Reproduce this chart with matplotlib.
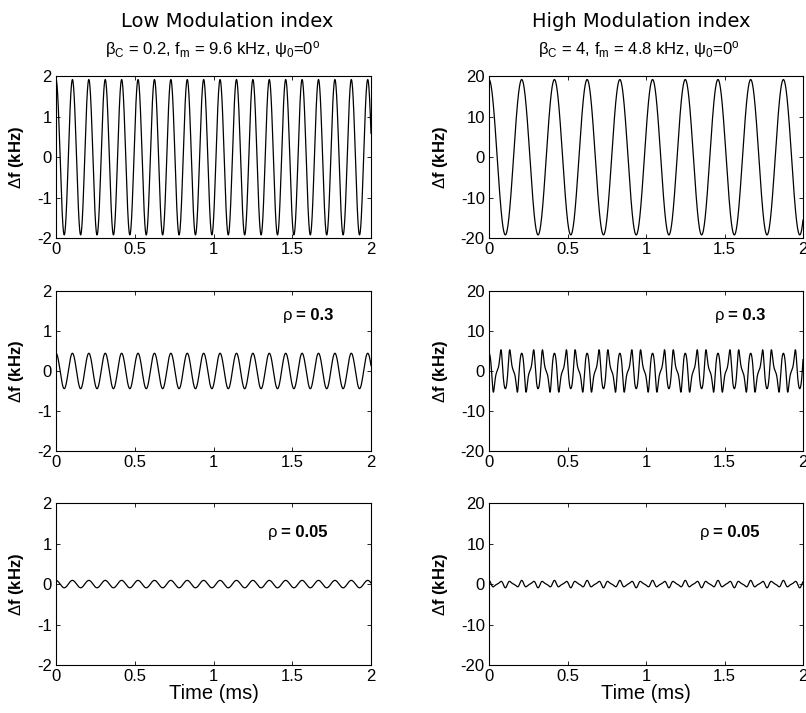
import numpy as np
import matplotlib
matplotlib.use("Agg")
import matplotlib.pyplot as plt

plt.rcParams['font.family'] = ['Liberation Sans', 'DejaVu Sans']
plt.rcParams['mathtext.fontset'] = 'custom'
plt.rcParams['mathtext.rm'] = 'Liberation Sans'
plt.rcParams['mathtext.it'] = 'Liberation Sans:italic'
plt.rcParams['mathtext.bf'] = 'Liberation Sans:bold'
plt.rcParams['axes.unicode_minus'] = False

# parametros
column_titles = ["Low Modulation index", "High Modulation index"]
betas = [0.2, 4]          # indice de modulacion
fms = [9.6, 4.8]          # kHz
psi0 = 0.0                # grados
rhos = [None, 0.3, 0.05]  # fila 0 = senal original
y_limits = [2, 20]
y_ticks = [[-2, -1, 0, 1, 2], [-20, -10, 0, 10, 20]]
x_ticks = [0, 0.5, 1, 1.5, 2]
x_ticklabels = ['0', '0.5', '1', '1.5', '2']
t_max = 2.0               # ms

t = np.linspace(0, t_max, 4001)


def desviacion(beta, fm, rho):
    """Desviacion de frecuencia (kHz); con rho, error de la senal con interferencia."""
    arg = 2 * np.pi * fm * t + np.deg2rad(psi0)
    f = beta * fm * np.cos(arg)
    if rho is None:
        return f
    phi = beta * np.sin(arg)
    return f * (rho * np.cos(phi) + rho**2) / (1 + 2 * rho * np.cos(phi) + rho**2)


fig = plt.figure(figsize=(8.06, 7.13), dpi=100)

lefts = [0.0695, 0.6067]
widths = [0.3908, 0.3896]
bottoms = [0.666, 0.3675, 0.0673]
heights = [0.227, 0.2244, 0.227]
label_x = [-0.095, -0.124]
rho_pos = [None, (0.72, 0.844), (0.672, 0.82)]

for c in range(2):
    for r in range(3):
        ax = fig.add_axes([lefts[c], bottoms[r], widths[c], heights[r]])
        ax.plot(t, desviacion(betas[c], fms[c], rhos[r]), color='black', lw=0.9)
        ax.set_xlim(0, t_max)
        ax.set_ylim(-y_limits[c], y_limits[c])
        ax.set_xticks(x_ticks)
        ax.set_xticklabels(x_ticklabels)
        ax.set_yticks(y_ticks[c])
        ax.tick_params(direction='in', top=True, right=True, labelsize=12,
                       length=3, width=0.6, pad=3)
        for s in ax.spines.values():
            s.set_linewidth(0.8)
        ax.set_ylabel(r'$\Delta$f (kHz)', fontsize=12, fontweight='bold')
        ax.yaxis.set_label_coords(label_x[c], 0.5)
        if rhos[r] is not None:
            px, py = rho_pos[r]
            ax.text(px, py, 'ρ', transform=ax.transAxes, fontsize=12, va='center')
            ax.annotate('= %s' % rhos[r], xy=(px, py), xycoords='axes fraction',
                        xytext=(9.5, 0), textcoords='offset points',
                        fontsize=12, fontweight='bold', va='center')
        if r == 2:
            ax.set_xlabel('Time (ms)', fontsize=14.5, labelpad=0)

# titulos de cada columna
fig.text(0.282, 0.9705, column_titles[0], ha='center', va='center',
         fontsize=14, family='DejaVu Sans')
fig.text(0.796, 0.9705, column_titles[1], ha='center', va='center',
         fontsize=14, family='DejaVu Sans')
subs = ['β$_\\mathrm{C}$ = %s, f$_\\mathrm{m}$ = %s kHz, ψ$_\\mathrm{0}$=0$^\\mathrm{o}$' % (betas[c], fms[c])
        for c in range(2)]
fig.text(0.2637, 0.93, subs[0], ha='center', va='center', fontsize=12)
fig.text(0.793, 0.93, subs[1], ha='center', va='center', fontsize=12)

fig.savefig('out.png', dpi=100)
